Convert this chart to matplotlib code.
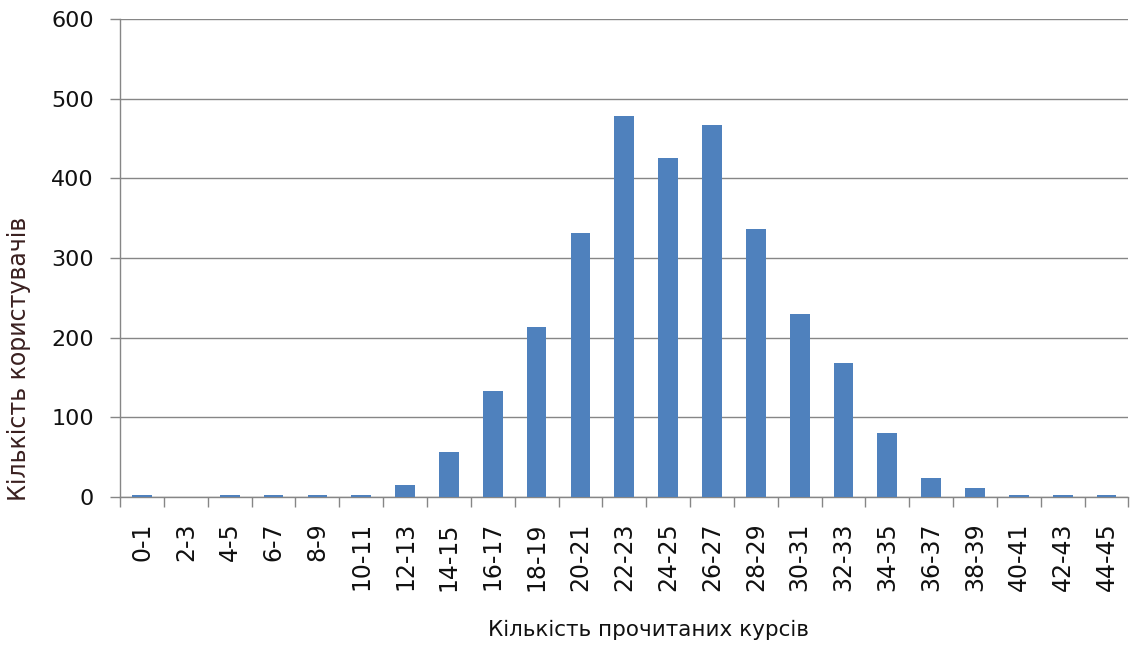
import matplotlib.pyplot as plt
import numpy as np

plt.rcParams['font.family'] = ['DejaVu Sans']

ranges = ['0-1', '2-3', '4-5', '6-7', '8-9', '10-11', '12-13', '14-15', '16-17',
          '18-19', '20-21', '22-23', '24-25', '26-27', '28-29', '30-31', '32-33',
          '34-35', '36-37', '38-39', '40-41', '42-43', '44-45']
users = [3, 0, 3, 3, 3, 3, 15, 56, 133, 213, 331, 478, 425, 467, 336, 230, 168,
         80, 24, 12, 3, 3, 3]

grey = '#868686'
fig = plt.figure(figsize=(11.33, 6.49), dpi=100)
ax = fig.add_axes([0.106, 0.234, 0.89, 0.737])

x = np.arange(len(ranges))
ax.bar(x, users, width=0.45, color='#4F81BD', zorder=3)

ax.set_xlim(-0.5, len(ranges) - 0.5)
ax.set_ylim(0, 600)
ax.set_yticks(range(0, 601, 100))
ax.yaxis.grid(True, color=grey, linewidth=1)
ax.set_axisbelow(True)

# category labels at bar centres, tick marks on the boundaries between them
ax.set_xticks(x)
ax.set_xticklabels(ranges, rotation=90)
ax.set_xticks(np.arange(-0.5, len(ranges)), minor=True)
ax.tick_params(axis='x', which='major', length=0, pad=18, labelsize=17)
ax.tick_params(axis='x', which='minor', length=7, color=grey, width=1)
ax.tick_params(axis='y', length=7, color=grey, width=1, pad=12, labelsize=16)
ax.tick_params(labelcolor='#111111')

for side in ['top', 'right']:
    ax.spines[side].set_visible(False)
for side in ['left', 'bottom']:
    ax.spines[side].set_color(grey)
    ax.spines[side].set_linewidth(1)

ax.set_xlabel('Кількість прочитаних курсів', fontsize=15.5, color='#111111')
ax.set_ylabel('Кількість користувачів', fontsize=17, color='#3a2020')
ax.xaxis.set_label_coords(0.524, -0.256)
ax.yaxis.set_label_coords(-0.088, 0.29)

plt.savefig('out.png', dpi=100)
